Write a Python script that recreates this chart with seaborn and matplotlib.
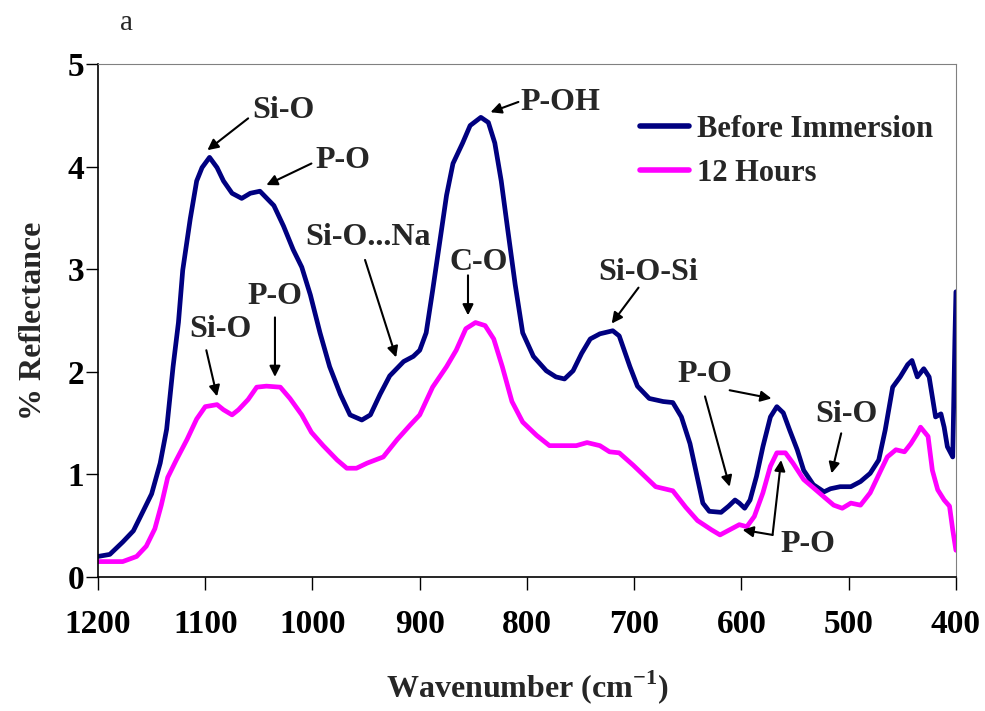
import seaborn as sns
import matplotlib.pyplot as plt
import pandas as pd

# wavenumber (cm-1) and % reflectance
before_x = [1200, 1189, 1177, 1167, 1158, 1150, 1142, 1136, 1130, 1125, 1121, 1114,
            1108, 1103, 1096, 1089, 1083, 1075, 1066, 1058, 1049, 1036, 1027, 1018,
            1010, 1002, 993, 984, 974, 965, 954, 946, 937, 928, 915, 906, 900, 894,
            888, 881, 875, 869, 860, 853, 843, 836, 830, 824, 818, 811, 804, 794,
            782, 773, 765, 757, 749, 741, 732, 720, 714, 704, 697, 686, 673, 664,
            656, 648, 642, 636, 630, 619, 612, 606, 602, 597, 592, 586, 580, 573,
            567, 561, 555, 548, 542, 533, 523, 517, 508, 498, 489, 480, 472, 466,
            459, 452, 445, 441, 436, 430, 425, 419, 414, 411, 408, 403, 401, 400]
before_y = [0.20, 0.22, 0.34, 0.45, 0.64, 0.81, 1.11, 1.44, 2.05, 2.48, 2.99, 3.49,
            3.86, 3.99, 4.09, 3.99, 3.86, 3.74, 3.69, 3.74, 3.76, 3.62, 3.42, 3.19,
            3.02, 2.75, 2.38, 2.05, 1.78, 1.58, 1.53, 1.58, 1.78, 1.96, 2.10, 2.15, 2.21, 2.38,
            2.79, 3.29, 3.72, 4.03, 4.23, 4.40, 4.48, 4.43, 4.23, 3.86, 3.39, 2.85, 2.38, 2.15,
            2.01, 1.95, 1.93, 2.01, 2.18, 2.32, 2.37, 2.40, 2.35, 2.05, 1.86, 1.74, 1.71, 1.70,
            1.56, 1.30, 1.01, 0.72, 0.64, 0.63, 0.69, 0.75, 0.72, 0.67, 0.75, 0.98, 1.27, 1.56,
            1.66, 1.60, 1.43, 1.24, 1.04, 0.90, 0.83, 0.86, 0.88, 0.88, 0.93, 1.01, 1.14, 1.43,
            1.85, 1.95, 2.07, 2.11, 1.95, 2.03, 1.95, 1.56, 1.59, 1.46, 1.27, 1.17, 2.31, 2.78]

hours12_x = [1200, 1177, 1164, 1155, 1147, 1141, 1135, 1127, 1117, 1108, 1100, 1089,
             1083, 1075, 1069, 1060, 1052, 1043, 1030, 1021, 1010, 1001, 990, 977,
             968, 959, 949, 934, 921, 909, 900, 888, 875, 866, 857, 848, 839, 831,
             823, 814, 804, 791, 779, 763, 754, 744, 732, 723, 714, 701, 689, 680,
             664, 652, 641, 628, 620, 611, 602, 595, 588, 580, 573, 567, 559, 552,
             542, 533, 523, 514, 506, 498, 489, 480, 470, 464, 456, 448, 442, 436,
             433, 426, 422, 417, 411, 406, 403, 400]
hours12_y = [0.15, 0.15, 0.20, 0.30, 0.47, 0.70, 0.97, 1.14, 1.34, 1.54, 1.66, 1.68,
             1.63, 1.58, 1.63, 1.73, 1.85, 1.86, 1.85, 1.74, 1.58, 1.41, 1.28, 1.14,
             1.06, 1.06, 1.11, 1.17, 1.34, 1.48, 1.58, 1.85, 2.05, 2.21, 2.42, 2.48, 2.45, 2.32,
             2.05, 1.71, 1.51, 1.38, 1.28, 1.28, 1.28, 1.31, 1.28, 1.22, 1.21, 1.09, 0.97, 0.88,
             0.84, 0.68, 0.55, 0.46, 0.41, 0.46, 0.51, 0.49, 0.59, 0.82, 1.08, 1.21, 1.21, 1.11,
             0.95, 0.87, 0.78, 0.70, 0.67, 0.72, 0.70, 0.82, 1.04, 1.17, 1.24, 1.22, 1.30, 1.40,
             1.46, 1.37, 1.04, 0.85, 0.75, 0.69, 0.46, 0.26]

series_names = ["Before Immersion", "12 Hours"]
x_ticks = [1200, 1100, 1000, 900, 800, 700, 600, 500, 400]
y_ticks = [0, 1, 2, 3, 4, 5]

# band labels: (text, text position)
band_labels = [
    ("Si-O", (1027, 4.55)),
    ("P-O", (972, 4.06)),
    ("Si-O...Na", (948, 3.31)),
    ("P-O", (1035, 2.73)),
    ("Si-O", (1086, 2.41)),
    ("P-OH", (769, 4.62)),
    ("C-O", (845, 3.07)),
    ("Si-O-Si", (687, 2.97)),
    ("P-O", (634, 1.97)),
    ("Si-O", (502, 1.58)),
    ("P-O", (538, 0.32)),
]
# arrows: (tail, head)
band_arrows = [
    ((1060, 4.47), (1098, 4.16)),
    ((1001, 4.03), (1043, 3.82)),
    ((951, 3.09), (922, 2.14)),
    ((1035, 2.53), (1035, 1.95)),
    ((1099, 2.21), (1089, 1.76)),
    ((808, 4.63), (834, 4.53)),
    ((855, 2.94), (855, 2.55)),
    ((696, 2.82), (721, 2.47)),
    ((611, 1.82), (572, 1.74)),
    ((634, 1.76), (611, 0.88)),
    ((507, 1.40), (516, 1.01)),
    ((571, 0.41), (563, 1.14)),
    ((571, 0.41), (599, 0.46)),
]

df = pd.concat([
    pd.DataFrame({"Wavenumber": before_x, "Reflectance": before_y, "Sample": series_names[0]}),
    pd.DataFrame({"Wavenumber": hours12_x, "Reflectance": hours12_y, "Sample": series_names[1]}),
])

sns.set_theme(style="ticks")
plt.rcParams['font.family'] = ['Liberation Serif', 'DejaVu Serif']
plt.rcParams['font.weight'] = 'bold'
plt.rcParams['mathtext.fontset'] = 'custom'
plt.rcParams['mathtext.rm'] = 'Liberation Serif:bold'
plt.rcParams['mathtext.bf'] = 'Liberation Serif:bold'

fig = plt.figure(figsize=(9.85, 7.11), dpi=100)
ax = fig.add_axes([0.0995, 0.1885, 0.871, 0.7215])

sns.lineplot(data=df, x="Wavenumber", y="Reflectance", hue="Sample",
             palette=["#000080", "#FF00FF"], estimator=None, sort=False,
             linewidth=3.4, ax=ax)

ax.set_xlim(1200, 400)
ax.set_ylim(0, 5)
ax.set_xticks(x_ticks)
ax.set_yticks(y_ticks)
ax.tick_params(axis='both', labelsize=24, direction='out', length=9, width=1, colors='black')
ax.tick_params(axis='x', pad=14)
ax.tick_params(axis='y', pad=1)
for lab in ax.get_xticklabels() + ax.get_yticklabels():
    lab.set_fontweight('bold')

ax.set_xlabel("Wavenumber (cm$^{-1}$)", fontsize=23, fontweight='bold', labelpad=20)
ax.set_ylabel("% Reflectance", fontsize=23, fontweight='bold', labelpad=14)

for side in ['left', 'bottom']:
    ax.spines[side].set_color('black')
    ax.spines[side].set_linewidth(1.2)
for side in ['top', 'right']:
    ax.spines[side].set_color('#808080')
    ax.spines[side].set_linewidth(0.8)

for text, pos in band_labels:
    ax.text(pos[0], pos[1], text, fontsize=23, fontweight='bold', ha='center', va='center')
for tail, head in band_arrows:
    ax.annotate("", xy=head, xytext=tail,
                arrowprops=dict(arrowstyle='-|>', color='black', lw=1.5, mutation_scale=16,
                                shrinkA=0, shrinkB=0))

leg = ax.legend(loc='upper right', bbox_to_anchor=(1.005, 0.955), frameon=False,
                fontsize=22, handlelength=1.6, labelspacing=0.5, handletextpad=0.25)
for t in leg.get_texts():
    t.set_fontweight('bold')
for h in leg.get_lines():
    h.set_linewidth(4)

fig.text(0.128, 0.968, "a", fontsize=21, fontweight='normal', ha='center', va='center')

fig.savefig("out.png", dpi=100)
